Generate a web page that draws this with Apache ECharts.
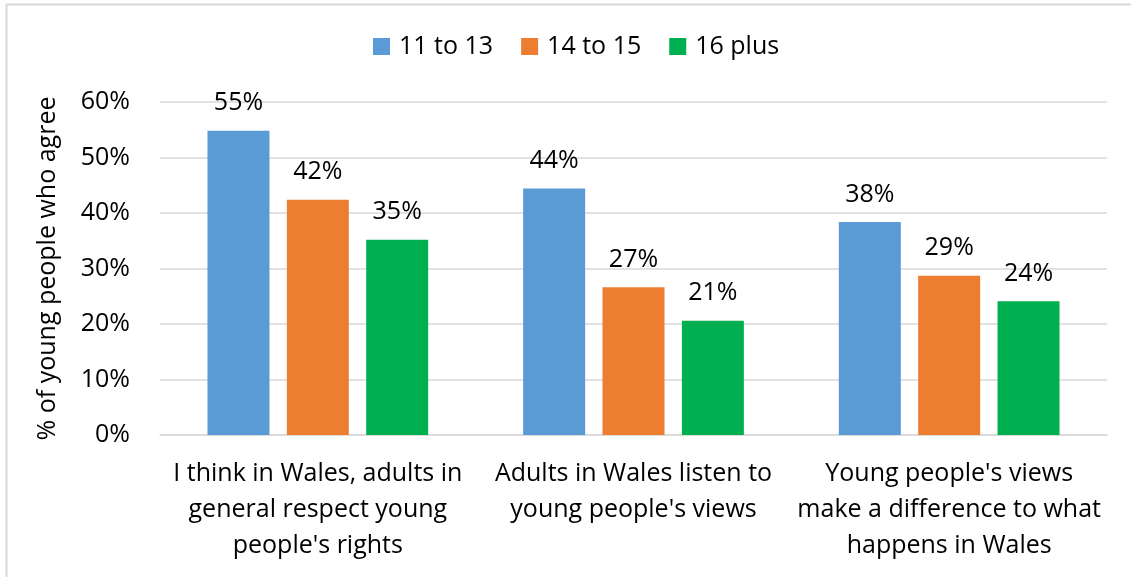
<!DOCTYPE html>
<html>
<head>
<meta charset="utf-8">
<style>
  html, body { margin: 0; padding: 0; background: #ffffff; }
  #chart { width: 1131px; height: 577px; }
</style>
<script src="https://cdn.jsdelivr.net/npm/echarts@6/dist/echarts.min.js"></script>
</head>
<body>
<div id="chart"></div>
<script>
// Survey statements (x-axis categories)
const categories = [
  "I think in Wales, adults in\ngeneral respect young\npeople's rights",
  "Adults in Wales listen to\nyoung people's views",
  "Young people's views\nmake a difference to what\nhappens in Wales"
];

// Age groups
const seriesNames = ["11 to 13", "14 to 15", "16 plus"];

// % of young people who agree, per age group
const age11to13 = [54.8, 44.4, 38.4];
const age14to15 = [42.4, 26.6, 28.7];
const age16plus = [35.2, 20.6, 24.1];

// Value axis ticks
const yMin = 0;
const yMax = 60;
const yStep = 10;

const colors = ["#5B9BD5", "#ED7D31", "#00B050"];
const FONT = "Open Sans";
const FS = 25;
const values = [age11to13, age14to15, age16plus];

const chart = echarts.init(document.getElementById("chart"), null, { renderer: "canvas" });

chart.setOption({
  backgroundColor: "#ffffff",
  animation: false,
  textStyle: { fontFamily: FONT },
  graphic: [{
    type: "rect",
    left: 4, top: 2,
    shape: { width: 1200, height: 700 },
    style: { fill: "none", stroke: "#d9d9d9", lineWidth: 2 },
    silent: true
  }],
  legend: {
    top: 29,
    left: 368,
    itemWidth: 17,
    itemHeight: 17,
    itemGap: 28,
    icon: "rect",
    textStyle: { fontFamily: FONT, fontSize: FS, color: "#000", padding: [0, 0, 0, 4] },
    data: seriesNames
  },
  grid: { left: 160, right: 24, top: 102, bottom: 142, containLabel: false },
  xAxis: {
    type: "category",
    data: categories,
    axisLine: { show: true, lineStyle: { color: "#d9d9d9", width: 1.5 } },
    axisTick: { show: false },
    axisLabel: {
      interval: 0,
      margin: 21,
      fontFamily: FONT,
      fontSize: FS,
      lineHeight: 36,
      color: "#000"
    }
  },
  yAxis: {
    type: "value",
    min: yMin,
    max: yMax,
    interval: yStep,
    name: "% of young people who agree",
    nameLocation: "middle",
    nameGap: 100,
    nameTextStyle: { fontFamily: FONT, fontSize: FS, color: "#000" },
    axisLine: { show: false },
    axisTick: { show: false },
    splitLine: { lineStyle: { color: "#d9d9d9", width: 1.5 } },
    axisLabel: {
      margin: 30,
      fontFamily: FONT,
      fontSize: FS,
      color: "#000",
      formatter: "{value}%"
    }
  },
  series: seriesNames.map((name, i) => ({
    name: name,
    type: "bar",
    data: values[i],
    barWidth: 62,
    barGap: "28%",
    itemStyle: { color: colors[i] },
    label: {
      show: true,
      position: "top",
      distance: 15,
      fontFamily: FONT,
      fontSize: FS,
      color: "#000",
      formatter: p => Math.round(p.value) + "%"
    }
  }))
});
</script>
</body>
</html>
